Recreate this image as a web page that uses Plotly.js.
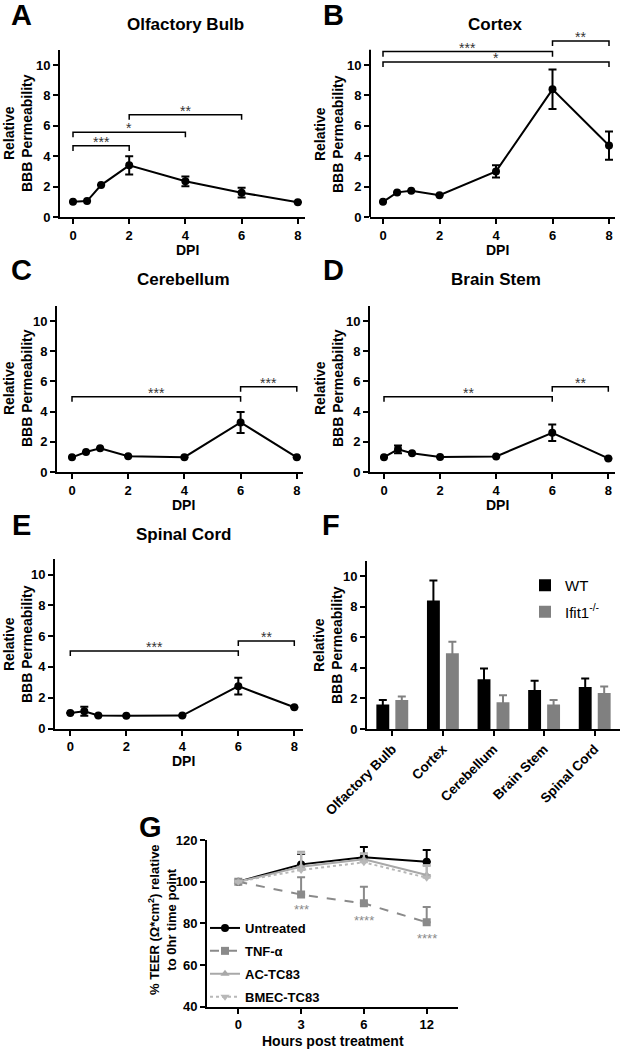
<!DOCTYPE html>
<html><head><meta charset="utf-8">
<script src="https://cdn.plot.ly/plotly-3.0.1.min.js"></script>
<style>html,body{margin:0;padding:0;background:#fff}#chart{width:625px;height:1050px}</style>
</head><body><div id="chart"></div>
<script>
const W = 625, H = 1050;
const FONT = 'Liberation Sans, Arial, sans-serif';

// ---- data: panels A-E (DPI time course) ----
const dpi = [0, 0.5, 1, 2, 4, 6, 8];
const dpiTicks = [0, 2, 4, 6, 8];
const permTicks = [0, 2, 4, 6, 8, 10];
const obMean = [1.0, 1.05, 2.1, 3.4, 2.35, 1.6, 0.97];
const obErr  = [0, 0, 0, 0.6, 0.32, 0.32, 0];
const cxMean = [1.0, 1.62, 1.72, 1.43, 3.0, 8.4, 4.7];
const cxErr  = [0, 0, 0, 0, 0.4, 1.3, 0.93];
const cbMean = [0.97, 1.32, 1.57, 1.04, 0.98, 3.28, 0.97];
const cbErr  = [0, 0, 0, 0, 0, 0.7, 0];
const bsMean = [0.98, 1.5, 1.24, 1.0, 1.03, 2.6, 0.9];
const bsErr  = [0, 0.25, 0, 0, 0, 0.55, 0];
const scMean = [1.0, 1.12, 0.85, 0.82, 0.84, 2.75, 1.38];
const scErr  = [0, 0.3, 0, 0, 0, 0.55, 0];

// significance brackets: [x0, x1, y, label]
const obSig = [[0, 2, 4.68, '***'], [0, 4, 5.58, '*'], [2, 6, 6.72, '**']];
const cxSig = [[0, 6, 10.88, '***'], [0, 8, 10.2, '*'], [6, 8, 11.58, '**']];
const cbSig = [[0, 6, 4.99, '***'], [6, 8, 5.65, '***']];
const bsSig = [[0, 6, 4.99, '**'], [6, 8, 5.65, '**']];
const scSig = [[0, 6, 5.03, '***'], [6, 8, 5.68, '**']];

// ---- data: panel F ----
const regions = ['Olfactory Bulb', 'Cortex', 'Cerebellum', 'Brain Stem', 'Spinal Cord'];
const wtMean = [1.6, 8.4, 3.25, 2.55, 2.75];
const wtErr  = [0.3, 1.3, 0.7, 0.6, 0.55];
const koMean = [1.9, 4.95, 1.75, 1.6, 2.35];
const koErr  = [0.22, 0.75, 0.45, 0.3, 0.42];

// ---- data: panel G ----
const hours = ['0', '3', '6', '12'];
const teerTicks = [40, 60, 80, 100, 120];
const untrMean = [100, 108.3, 111.7, 109.6];
const untrErr  = [0, 5, 5, 5.6];
const tnfMean  = [100, 93.8, 89.6, 80.5];
const tnfErr   = [0, 8.3, 8, 7.3];
const acMean   = [100, 107.2, 110.7, 103.2];
const acErr    = [0, 7.2, 3, 4.8];
const bmecMean = [100, 105.6, 109.3, 101.9];
const bmecErr  = [0, 8, 4, 5.6];
const tnfSig = [['3', 88, '***'], ['6', 83, '****'], ['12', 74, '****']];

// ---- helpers ----
const axBase = {
  showline: true, linewidth: 2, linecolor: '#000', ticks: 'outside', ticklen: 5,
  tickwidth: 2, tickcolor: '#000', showgrid: false, zeroline: false, fixedrange: true,
  tickfont: {family: FONT, size: 13, weight: 'bold', color: '#000'}
};
function xdom(l, r) { return [l / W, r / W]; }
function ydom(top, bottom) { return [1 - bottom / H, 1 - top / H]; }
function lin(p0, s, l, r) { return [(l - p0) / s, (r - p0) / s]; }
function ann(text, px, py, size, extra) {
  return Object.assign({text: text, x: px / W, y: 1 - py / H, xref: 'paper', yref: 'paper',
    xanchor: 'center', yanchor: 'middle', showarrow: false,
    font: {family: FONT, size: size, weight: 'bold', color: '#000'}}, extra || {});
}

const traces = [];
const shapes = [];
const annotations = [];
const layout = {
  width: W, height: H, margin: {l: 0, r: 0, t: 0, b: 0},
  paper_bgcolor: '#fff', plot_bgcolor: 'rgba(0,0,0,0)',
  barmode: 'group', bargap: 0.25, bargroupgap: 0.32,
  font: {family: FONT, color: '#000'}
};

// line panels
const panels = [
  {id: '', mean: obMean, err: obErr, sig: obSig, x0: 73, xs: 28.1, l: 60, r: 305, y0: 217, ys: 15.2, top: 11,
   title: 'Olfactory Bulb', tx: 185, ty: 24, letter: 'A', lx: 21, ly: 15, ytx: 18, yty: 133, dx: 187, dy: 250},
  {id: '2', mean: cxMean, err: cxErr, sig: cxSig, x0: 383, xs: 28.25, l: 370, r: 615, y0: 217, ys: 15.2, top: 12.2,
   title: 'Cortex', tx: 495, ty: 24, letter: 'B', lx: 333, ly: 15, ytx: 329, yty: 134, dx: 497, dy: 250},
  {id: '3', mean: cbMean, err: cbErr, sig: cbSig, x0: 72, xs: 28.1, l: 57, r: 303, y0: 472, ys: 15.1, top: 11,
   title: 'Cerebellum', tx: 183, ty: 279, letter: 'C', lx: 21, ly: 270, ytx: 18, yty: 388, dx: 183, dy: 505},
  {id: '4', mean: bsMean, err: bsErr, sig: bsSig, x0: 384, xs: 28.04, l: 370, r: 615, y0: 472, ys: 15.1, top: 11,
   title: 'Brain Stem', tx: 496, ty: 279, letter: 'D', lx: 333, ly: 270, ytx: 329, yty: 388, dx: 497, dy: 505},
  {id: '5', mean: scMean, err: scErr, sig: scSig, x0: 70.3, xs: 28, l: 55, r: 303, y0: 728.5, ys: 15.4, top: 11,
   title: 'Spinal Cord', tx: 183, ty: 534, letter: 'E', lx: 21, ly: 525, ytx: 18, yty: 644, dx: 183, dy: 761}
];

panels.forEach(p => {
  const xa = 'x' + p.id, ya = 'y' + p.id;
  const topPx = p.y0 - p.top * p.ys;
  layout['xaxis' + p.id] = Object.assign({}, axBase, {
    domain: xdom(p.l, p.r), range: lin(p.x0, p.xs, p.l, p.r), tickvals: dpiTicks, anchor: ya});
  layout['yaxis' + p.id] = Object.assign({}, axBase, {
    domain: ydom(topPx, p.y0), range: [0, p.top], tickvals: permTicks, anchor: xa,
    showline: p.top <= 11});
  if (p.top > 11) {
    shapes.push({type: 'line', xref: xa + ' domain', yref: ya, x0: 0, x1: 0, y0: 0, y1: 11,
      line: {color: '#000', width: 2}});
  }
  traces.push({type: 'scatter', mode: 'lines+markers', x: dpi, y: p.mean, xaxis: xa, yaxis: ya,
    line: {color: '#000', width: 2}, marker: {color: '#000', size: 8},
    error_y: {type: 'data', array: p.err, visible: true, color: '#000', thickness: 2, width: 4},
    showlegend: false, hoverinfo: 'skip'});
  p.sig.forEach(s => {
    const d = 0.33;
    shapes.push({type: 'path', xref: xa, yref: ya,
      path: `M ${s[0]},${s[2] - d} L ${s[0]},${s[2]} L ${s[1]},${s[2]} L ${s[1]},${s[2] - d}`,
      line: {color: '#000', width: 1.5}});
    annotations.push({text: s[3], x: (s[0] + s[1]) / 2, y: s[2], xref: xa, yref: ya,
      xanchor: 'center', yanchor: 'bottom', yshift: -6, showarrow: false,
      font: {family: FONT, size: 14, color: '#333'}});
  });
  annotations.push(ann(p.title, p.tx, p.ty, 17));
  annotations.push(ann(p.letter, p.lx, p.ly, 29));
  annotations.push(ann('DPI', p.dx, p.dy, 14));
  annotations.push(ann('Relative<br>BBB Permeability', p.ytx, p.yty, 14, {textangle: -90}));
});

// panel F
layout.xaxis6 = Object.assign({}, axBase, {domain: xdom(367, 620), range: [-0.5, 4.5],
  type: 'category', tickangle: -45, anchor: 'y6', tickfont: {family: FONT, size: 13.5, weight: 'bold', color: '#000'}});
layout.yaxis6 = Object.assign({}, axBase, {domain: ydom(729 - 11 * 15.3, 729), range: [0, 11],
  tickvals: permTicks, anchor: 'x6'});
traces.push({type: 'bar', name: 'WT', x: regions, y: wtMean, xaxis: 'x6', yaxis: 'y6',
  marker: {color: '#000'}, legend: 'legend', legendgroup: 'wt',
  error_y: {type: 'data', array: wtErr, visible: true, color: '#000', thickness: 2, width: 4}, hoverinfo: 'skip'});
traces.push({type: 'bar', name: 'Ifit1<sup>-/-</sup>', x: regions, y: koMean, xaxis: 'x6', yaxis: 'y6',
  marker: {color: '#808080'}, legend: 'legend', legendgroup: 'ko',
  error_y: {type: 'data', array: koErr, visible: true, color: '#808080', thickness: 2, width: 4}, hoverinfo: 'skip'});
annotations.push(ann('F', 331, 525, 29));
annotations.push(ann('Relative<br>BBB Permeability', 328, 645, 14, {textangle: -90}));
layout.legend = {x: 525 / W, y: 1 - 569 / H, xanchor: 'left', yanchor: 'top', tracegroupgap: 4,
  font: {family: FONT, size: 15, color: '#000'}, bgcolor: 'rgba(0,0,0,0)', itemwidth: 30};

// panel G
layout.xaxis7 = Object.assign({}, axBase, {domain: xdom(207, 458), range: lin(238.3, 62.8, 207, 458),
  type: 'category', anchor: 'y7'});
layout.yaxis7 = Object.assign({}, axBase, {domain: ydom(840, 1006.7), range: [40, 120],
  tickvals: teerTicks, anchor: 'x7'});
const gSeries = [
  {name: 'Untreated', y: untrMean, e: untrErr, color: '#000', dash: 'solid', sym: 'circle'},
  {name: 'TNF-\u03b1', y: tnfMean, e: tnfErr, color: '#8a8a8a', dash: 'dash', sym: 'square'},
  {name: 'AC-TC83', y: acMean, e: acErr, color: '#a8a8a8', dash: 'solid', sym: 'triangle-up'},
  {name: 'BMEC-TC83', y: bmecMean, e: bmecErr, color: '#b8b8b8', dash: 'dot', sym: 'triangle-down'}
];
gSeries.forEach(s => {
  traces.push({type: 'scatter', mode: 'lines+markers', name: s.name, x: hours, y: s.y,
    xaxis: 'x7', yaxis: 'y7', legend: 'legend2', legendgroup: s.name,
    line: {color: s.color, width: 2, dash: s.dash}, marker: {color: s.color, size: 8, symbol: s.sym},
    error_y: {type: 'data', symmetric: false, array: s.e, arrayminus: hours.map(() => 0),
      visible: true, color: s.color, thickness: 2, width: 4}, hoverinfo: 'skip'});
});
tnfSig.forEach(s => {
  annotations.push({text: s[2], x: hours.indexOf(s[0]), y: s[1], xref: 'x7', yref: 'y7', xanchor: 'center',
    yanchor: 'middle', yshift: -3, showarrow: false, font: {family: FONT, size: 13, color: '#8a8a8a'}});
});
annotations.push(ann('G', 150, 827, 29));
annotations.push(ann('Hours post treatment', 333, 1041, 14));
annotations.push(ann('% TEER (\u03a9*cm<sup>2</sup>) relative<br>to 0hr time point', 162, 920, 13, {textangle: -90}));
layout.legend2 = {x: 205 / W, y: 1 - 913 / H, xanchor: 'left', yanchor: 'top', tracegroupgap: 3,
  font: {family: FONT, size: 13, weight: 'bold', color: '#000'}, bgcolor: 'rgba(0,0,0,0)', itemwidth: 30};

layout.shapes = shapes;
layout.annotations = annotations;
Plotly.newPlot('chart', traces, layout, {staticPlot: true, displayModeBar: false});
</script>
</body></html>
